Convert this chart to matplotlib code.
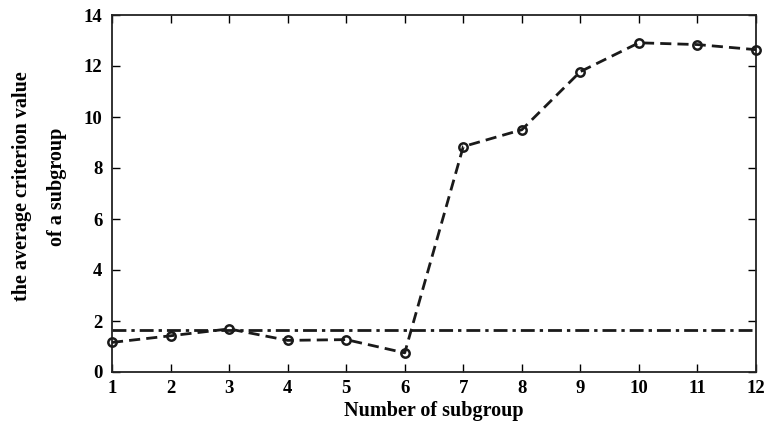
import numpy as np
import matplotlib
matplotlib.use("Agg")
import matplotlib.pyplot as plt

# values
subgroups = np.arange(1, 13)
avg_criterion = [1.16, 1.42, 1.69, 1.24, 1.27, 0.75, 8.84, 9.50, 11.78, 12.91, 12.84, 12.64]
threshold = 1.63

plt.rcParams['font.family'] = ['Liberation Serif', 'DejaVu Serif']
plt.rcParams['font.weight'] = 'bold'

fig = plt.figure(figsize=(7.64, 4.22), dpi=100)
ax = fig.add_axes([112 / 764, 50 / 422, 644 / 764, 357 / 422])

ax.plot(subgroups, avg_criterion, color='#1a1a1a', linestyle=(0, (4, 2.2)), linewidth=2,
        marker='o', markersize=6, markerfacecolor='none', markeredgewidth=1.8, clip_on=False, zorder=3)
ax.axhline(threshold, color='#1a1a1a', linestyle=(0, (5, 1.8, 1.2, 1.8)), linewidth=2)

ax.set_xlim(1, 12)
ax.set_ylim(0, 14)
ax.set_xticks(subgroups)
ax.set_yticks(np.arange(0, 15, 2))
ax.tick_params(direction='in', top=True, right=True, length=6, width=1, labelsize=13.5)
ax.tick_params(axis='x', pad=6)
ax.tick_params(axis='y', pad=7)
for lbl in ax.get_xticklabels() + ax.get_yticklabels():
    lbl.set_fontweight('bold')
for sp in ax.spines.values():
    sp.set_linewidth(1.3)
    sp.set_color('#222222')

ax.set_xlabel('Number of subgroup', fontsize=14.5, fontweight='bold', labelpad=2.5)
ax.set_ylabel('the average criterion value\nof a subgroup', fontsize=14.5, fontweight='bold',
              linespacing=2.0)
ax.yaxis.set_label_coords(-0.07, 0.52)

fig.savefig('out.png', dpi=100)
